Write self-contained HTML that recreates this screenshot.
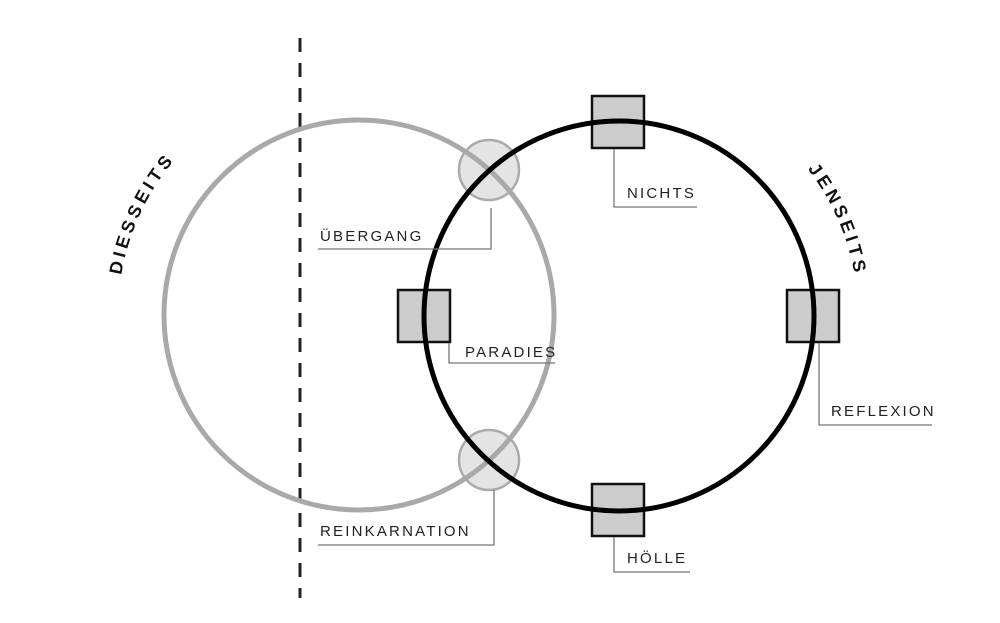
<!DOCTYPE html>
<html><head><meta charset="utf-8"><style>
html,body{margin:0;padding:0;background:#fff;}
svg{display:block;}
.l{font-family:"Liberation Sans",sans-serif;font-size:15px;letter-spacing:2.2px;fill:#222;}
.t{font-family:"Liberation Sans",sans-serif;font-size:18px;font-weight:bold;letter-spacing:4px;fill:#111;}
</style></head><body>
<svg width="1000" height="623" viewBox="0 0 1000 623" xmlns="http://www.w3.org/2000/svg">
<defs>
<path id="pd" d="M132.5,397.4 A241,241 0 0 1 276.6,88.5" fill="none"/>
<path id="pj" d="M705.8,93.2 A239,239 0 0 1 841.7,402.9" fill="none"/>
</defs>
<line x1="300" y1="38" x2="300" y2="598" stroke="#222" stroke-width="3" stroke-dasharray="14,11"/>
<circle cx="489" cy="170" r="30" fill="#e4e4e4" stroke="#aaa" stroke-width="2.5"/>
<circle cx="489" cy="460" r="30" fill="#e4e4e4" stroke="#aaa" stroke-width="2.5"/>
<g fill="#ccc" stroke="#111" stroke-width="2.5">
<rect x="398" y="290" width="52" height="52"/>
<rect x="592" y="96" width="52" height="52"/>
<rect x="787" y="290" width="52" height="52"/>
<rect x="592" y="484" width="52" height="52"/>
</g>
<circle cx="359" cy="315" r="195" fill="none" stroke="#a9a9a9" stroke-width="5"/>
<circle cx="619" cy="316" r="195" fill="none" stroke="#000" stroke-width="5"/>
<g fill="none" stroke="#777" stroke-width="1.3">
<polyline points="318,249 491,249 491,208"/>
<polyline points="449,343 449,363 555,363"/>
<polyline points="614,149 614,207 697,207"/>
<polyline points="819,343 819,425 932,425"/>
<polyline points="614,537 614,572 690,572"/>
<polyline points="318,545 494,545 494,490"/>
</g>
<text class="l" x="320" y="241">ÜBERGANG</text>
<text class="l" x="465" y="357">PARADIES</text>
<text class="l" x="627" y="198">NICHTS</text>
<text class="l" x="831" y="416">REFLEXION</text>
<text class="l" x="627" y="563">HÖLLE</text>
<text class="l" x="320" y="536">REINKARNATION</text>
<text class="t"><textPath href="#pd" startOffset="50%" text-anchor="middle">DIESSEITS</textPath></text>
<text class="t"><textPath href="#pj" startOffset="50%" text-anchor="middle">JENSEITS</textPath></text>
</svg>
</body></html>
